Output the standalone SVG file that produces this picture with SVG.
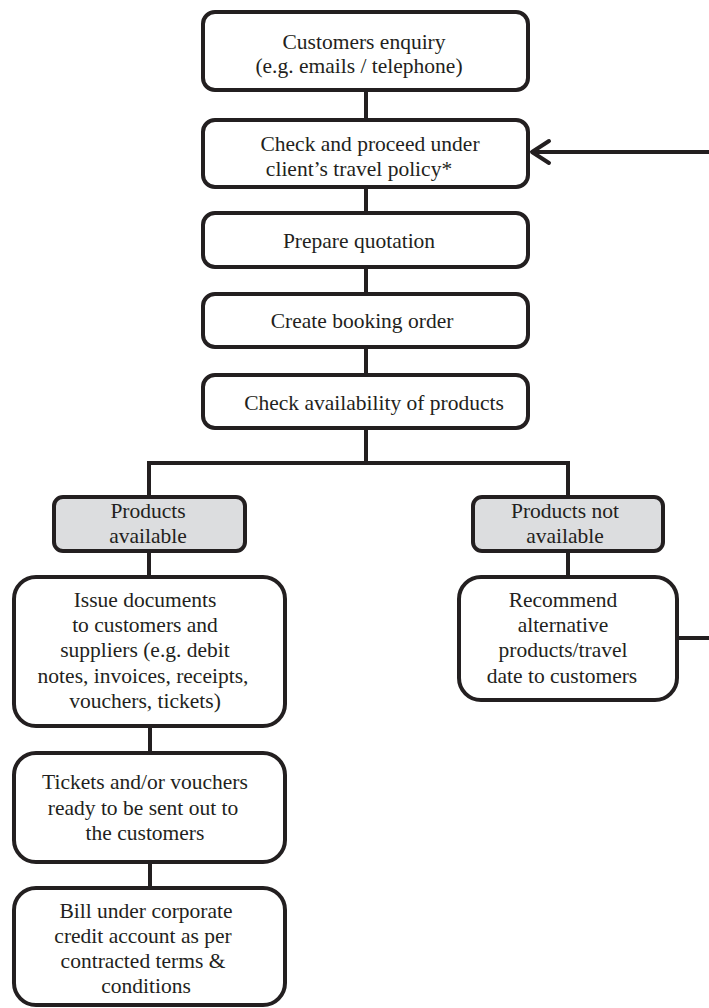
<svg xmlns="http://www.w3.org/2000/svg" width="709" height="1008" viewBox="0 0 709 1008">
<style>
.box{fill:#fff;stroke:#231f20;stroke-width:4}
.grey{fill:#dcdddf;stroke:#231f20;stroke-width:4}
.t{font-family:'Liberation Serif','DejaVu Serif',serif;font-size:21.5px;fill:#231f20;text-anchor:middle}
.c{fill:none;stroke:#231f20;stroke-width:4}
</style>
<rect width="709" height="1008" fill="#fff"/>
<g id="connectors">
<path class="c" d="M366 90V120M366 187V213M366 267V294M366 347V375M366 428V463M149 463H568M149 461V497M568 461V497M149 551V577M568 551V577M150 726V753M150 862V888"/>
<path class="c" d="M709 152H532"/>
<path class="c" d="M549 141L532 152L549 163" stroke-linecap="round" stroke-linejoin="round"/>
<path class="c" d="M677 638H709"/>
</g>
<g id="n1"><rect class="box" x="203" y="12" width="325" height="78" rx="12"/>
<text class="t" x="364" y="49">Customers enquiry</text><text class="t" x="359" y="73">(e.g. emails / telephone)</text></g>
<g id="n2"><rect class="box" x="203" y="120" width="325" height="67" rx="12"/>
<text class="t" x="370" y="151">Check and proceed under</text><text class="t" x="359" y="176">client’s travel policy*</text></g>
<g id="n3"><rect class="box" x="203" y="213" width="325" height="54" rx="12"/>
<text class="t" x="359" y="248">Prepare quotation</text></g>
<g id="n4"><rect class="box" x="203" y="294" width="325" height="53" rx="12"/>
<text class="t" x="362" y="328">Create booking order</text></g>
<g id="n5"><rect class="box" x="203" y="375" width="325" height="53" rx="12"/>
<text class="t" x="374" y="410">Check availability of products</text></g>
<g id="n6"><rect class="grey" x="54" y="497" width="191" height="54" rx="9"/>
<text class="t" x="148" y="518">Products</text><text class="t" x="148" y="543">available</text></g>
<g id="n7"><rect class="grey" x="473" y="497" width="190" height="54" rx="9"/>
<text class="t" x="565" y="518">Products not</text><text class="t" x="565" y="543">available</text></g>
<g id="n8"><rect class="box" x="14" y="577" width="271" height="149" rx="22"/>
<text class="t" x="145" y="607">Issue documents</text><text class="t" x="145" y="632">to customers and</text><text class="t" x="145" y="657">suppliers (e.g. debit</text><text class="t" x="143" y="683">notes, invoices, receipts,</text><text class="t" x="145" y="708">vouchers, tickets)</text></g>
<g id="n9"><rect class="box" x="459" y="577" width="218" height="123" rx="22"/>
<text class="t" x="563" y="607">Recommend</text><text class="t" x="563" y="632">alternative</text><text class="t" x="563" y="657">products/travel</text><text class="t" x="562" y="683">date to customers</text></g>
<g id="n10"><rect class="box" x="14" y="753" width="271" height="109" rx="22"/>
<text class="t" x="145" y="789">Tickets and/or vouchers</text><text class="t" x="143" y="815">ready to be sent out to</text><text class="t" x="145" y="840">the customers</text></g>
<g id="n11"><rect class="box" x="14" y="888" width="271" height="117" rx="22"/>
<text class="t" x="146" y="918">Bill under corporate</text><text class="t" x="143" y="943">credit account as per</text><text class="t" x="143" y="968">contracted terms &amp;</text><text class="t" x="146" y="993">conditions</text></g>
</svg>
